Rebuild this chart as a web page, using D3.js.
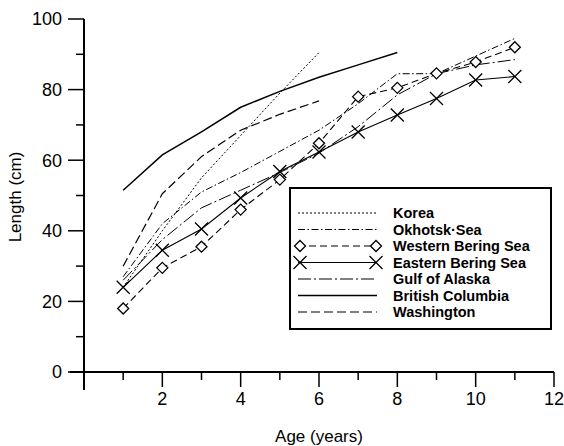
<!DOCTYPE html>
<html>
<head>
<meta charset="utf-8">
<script src="https://cdn.jsdelivr.net/npm/d3@7"></script>
<style>
  html, body { margin: 0; padding: 0; background: #fff; }
  svg { display: block; font-family: "Liberation Sans", Arial, Helvetica, sans-serif; }
</style>
</head>
<body>
<svg id="chart" width="564" height="446"></svg>
<script>
// ---- data ----
const seriesNames = ["Korea", "Okhotsk·Sea", "Western Bering Sea", "Eastern Bering Sea", "Gulf of Alaska", "British Columbia", "Washington"];
const korea      = [24, 40, 55, 67, 79, 90.5];                                   // ages 1-6
const okhotsk    = [27, 42, 51, 56.5, 62.5, 68.5, 76, 84.5, 84.5, 89.5, 94.5];   // ages 1-11
const western    = [18, 29.5, 35.5, 46, 54.5, 64.8, 78, 80.5, 84.6, 87.8, 92];   // ages 1-11
const eastern    = [24, 34.5, 40.5, 49.3, 56.8, 62.3, 68, 72.8, 77.5, 82.7, 83.7]; // ages 1-11
const gulf       = [26, 37.5, 46.5, 51.5, 56.5, 62, 69.5, 78.5, 84.5, 87, 88.5]; // ages 1-11
const britishCol = [51.5, 61.5, 68, 75, 79.5, 83.5, 87, 90.5];                   // ages 1-8
const washington = [30, 50.5, 61, 68.5, 73, 76.8];                               // ages 1-6
const xTicksMajor = [2, 4, 6, 8, 10, 12];
const xTicksMinor = [1, 3, 5, 7, 9, 11];
const yTicksMajor = [0, 20, 40, 60, 80, 100];
const yTicksMinor = [10, 30, 50, 70, 90];

const svg = d3.select("#chart");
const x = d3.scaleLinear().domain([0, 12]).range([84, 554]);
const y = d3.scaleLinear().domain([0, 100]).range([372, 19]);

const styles = {
  "Korea":              { dash: "2,2",        width: 1,   marker: null },
  "Okhotsk·Sea":        { dash: "7,2.5,1.5,2.5", width: 1, marker: null },
  "Western Bering Sea": { dash: "7,4",        width: 1.1, marker: "diamond" },
  "Eastern Bering Sea": { dash: null,         width: 1.1, marker: "x" },
  "Gulf of Alaska":     { dash: "13,3,2,3",   width: 1,   marker: null },
  "British Columbia":   { dash: null,         width: 1.5, marker: null },
  "Washington":         { dash: "9,4",        width: 1.2, marker: null }
};
const dataBy = {
  "Korea": korea, "Okhotsk·Sea": okhotsk, "Western Bering Sea": western,
  "Eastern Bering Sea": eastern, "Gulf of Alaska": gulf,
  "British Columbia": britishCol, "Washington": washington
};

// ---- axes ----
const ax = svg.append("g").attr("stroke", "#000").attr("fill", "none");
ax.append("line").attr("x1", x(0)).attr("x2", x(0)).attr("y1", y(100)).attr("y2", y(0) + 18).attr("stroke-width", 2);
ax.append("line").attr("x1", x(0) - 14).attr("x2", x(12)).attr("y1", y(0)).attr("y2", y(0)).attr("stroke-width", 1.8);

yTicksMajor.forEach(v => ax.append("line").attr("x1", x(0) - 16).attr("x2", x(0)).attr("y1", y(v)).attr("y2", y(v)).attr("stroke-width", 1.5));
yTicksMinor.forEach(v => ax.append("line").attr("x1", x(0) - 8).attr("x2", x(0)).attr("y1", y(v)).attr("y2", y(v)).attr("stroke-width", 1.5));
xTicksMajor.forEach(v => ax.append("line").attr("x1", x(v)).attr("x2", x(v)).attr("y1", y(0)).attr("y2", y(0) + 15).attr("stroke-width", 1.5));
xTicksMinor.forEach(v => ax.append("line").attr("x1", x(v)).attr("x2", x(v)).attr("y1", y(0)).attr("y2", y(0) + 8).attr("stroke-width", 1.5));

svg.append("g").selectAll("text").data(yTicksMajor).join("text")
  .attr("x", 62).attr("y", d => y(d)).attr("dy", "0.36em")
  .attr("text-anchor", "end").attr("font-size", 18).text(d => d);
svg.append("g").selectAll("text").data(xTicksMajor).join("text")
  .attr("x", d => x(d)).attr("y", 405)
  .attr("text-anchor", "middle").attr("font-size", 18).text(d => d);

svg.append("text").attr("x", 319).attr("y", 442).attr("text-anchor", "middle")
  .attr("font-size", 17).text("Age (years)");
svg.append("text").attr("transform", "translate(21,197) rotate(-90)").attr("text-anchor", "middle")
  .attr("font-size", 17).text("Length (cm)");

// ---- markers ----
function drawMarker(g, type, cx, cy) {
  if (type === "diamond") {
    const s = 5.5;
    g.append("path").attr("d", `M${cx},${cy - s}L${cx + s},${cy}L${cx},${cy + s}L${cx - s},${cy}Z`)
      .attr("fill", "#fff").attr("stroke", "#000").attr("stroke-width", 1.3);
  } else if (type === "x") {
    const s = 6.5;
    g.append("path").attr("d", `M${cx - s},${cy - s}L${cx + s},${cy + s}M${cx - s},${cy + s}L${cx + s},${cy - s}`)
      .attr("fill", "none").attr("stroke", "#000").attr("stroke-width", 1.3);
  }
}

// ---- series ----
const line = d3.line().x((d, i) => x(i + 1)).y(d => y(d));
const plot = svg.append("g");
seriesNames.forEach(name => {
  const st = styles[name];
  plot.append("path").datum(dataBy[name]).attr("d", line)
    .attr("fill", "none").attr("stroke", "#000").attr("stroke-width", st.width)
    .attr("stroke-dasharray", st.dash);
});
seriesNames.forEach(name => {
  const st = styles[name];
  if (st.marker) dataBy[name].forEach((v, i) => drawMarker(plot, st.marker, x(i + 1), y(v)));
});

// ---- legend ----
const lg = svg.append("g");
lg.append("rect").attr("x", 290).attr("y", 188).attr("width", 261).attr("height", 141)
  .attr("fill", "#fff").attr("stroke", "#000").attr("stroke-width", 2);
seriesNames.forEach((name, i) => {
  const st = styles[name];
  const yy = 213 + i * 16.5;
  lg.append("line").attr("x1", 298).attr("x2", 377).attr("y1", yy).attr("y2", yy)
    .attr("stroke", "#000").attr("stroke-width", st.width).attr("stroke-dasharray", st.dash);
  if (st.marker) { drawMarker(lg, st.marker, 300, yy); drawMarker(lg, st.marker, 376, yy); }
  lg.append("text").attr("x", 393).attr("y", yy).attr("dy", "0.36em")
    .attr("font-size", 14.5).attr("font-weight", "bold").text(name.replace("·", "·"));
});
</script>
</body>
</html>
